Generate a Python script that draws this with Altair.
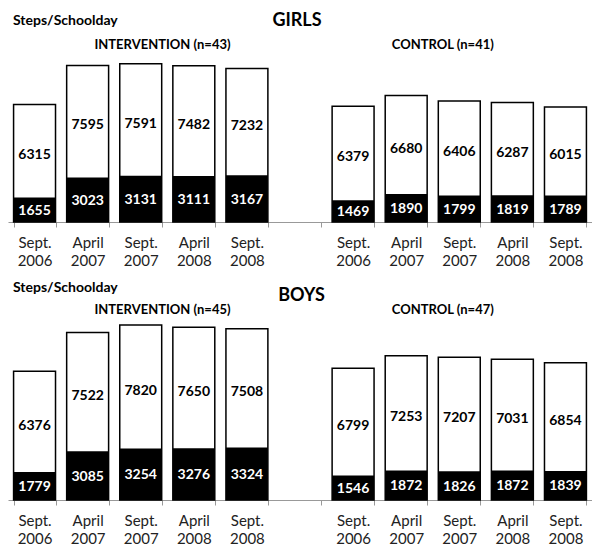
import altair as alt
import pandas as pd

# ---- data ----
months = ["Sept.", "April", "Sept.", "April", "Sept."]
years = ["2006", "2007", "2007", "2008", "2008"]

girls_int_black = [1655, 3023, 3131, 3111, 3167]
girls_int_white = [6315, 7595, 7591, 7482, 7232]
girls_ctl_black = [1469, 1890, 1799, 1819, 1789]
girls_ctl_white = [6379, 6680, 6406, 6287, 6015]

boys_int_black = [1779, 3085, 3254, 3276, 3324]
boys_int_white = [6376, 7522, 7820, 7650, 7508]
boys_ctl_black = [1546, 1872, 1826, 1872, 1839]
boys_ctl_white = [6799, 7253, 7207, 7031, 6854]

FONT = "Lato"
W = 584


def keys(group):
    return [f"{m}|{y}|{group}" for m, y in zip(months, years)]


domain = keys("I") + ["||gap"] + keys("C")


def text_mark(label, x, y, size, align="center"):
    return alt.Chart(pd.DataFrame({"label": [label]})).mark_text(
        font=FONT, fontSize=size, fontWeight="bold", color="black",
        align=align, baseline="alphabetic"
    ).encode(x=alt.value(x), y=alt.value(y), text="label:N")


def panel(ib, iw, cb, cw, ymax, height, sex, int_label, ctl_label, pos):
    df = pd.DataFrame({
        "key": keys("I") + keys("C"),
        "black": ib + cb,
        "white": iw + cw,
    })
    base = alt.Chart(df).transform_calculate(
        total="datum.black + datum.white",
        wmid="datum.black + datum.white / 2",
        bmid="datum.black / 2",
    )
    x = alt.X(
        "key:N",
        sort=domain,
        scale=alt.Scale(domain=domain, paddingInner=0.21, paddingOuter=0.105),
        axis=alt.Axis(
            title=None,
            labelExpr="slice(split(datum.label, '|'), 0, 2)",
            labelAngle=0,
            tickBand="extent",
            tickSize=5,
            tickColor="#999999",
            domainColor="#999999",
            labelFont=FONT,
            labelFontSize=15,
            labelColor="#222222",
            labelLineHeight=18,
            labelBaseline="alphabetic",
            labelPadding=20,
            labelOverlap=False,
        ),
    )
    ys = alt.Scale(domain=[0, ymax], nice=False, zero=True)
    white = base.mark_bar(fill="white", stroke="black", strokeWidth=1.5).encode(
        x=x, y=alt.Y("total:Q", scale=ys, axis=None)
    )
    black = base.mark_bar(color="black").encode(
        x=x, y=alt.Y("black:Q", scale=ys, axis=None)
    )
    wlab = base.mark_text(
        font=FONT, fontSize=14, fontWeight="bold", color="black", dy=4
    ).encode(x=x, y=alt.Y("wmid:Q", scale=ys, axis=None),
             text=alt.Text("white:Q", format="d"))
    blab = base.mark_text(
        font=FONT, fontSize=14, fontWeight="bold", color="white", dy=1
    ).encode(x=x, y=alt.Y("bmid:Q", scale=ys, axis=None),
             text=alt.Text("black:Q", format="d"))
    titles = [
        text_mark("Steps/Schoolday", 5, pos["steps"], 14, align="left"),
        text_mark(sex, pos["sex_x"], pos["sex_y"], 18),
        text_mark(int_label, 154.5, pos["grp"], 13),
        text_mark(ctl_label, 434.8, pos["grp"], 13),
    ]
    return alt.layer(white, black, wlab, blab, *titles).properties(
        width=W, height=height
    )


girls = panel(girls_int_black, girls_int_white, girls_ctl_black, girls_ctl_white,
              14102, 208, "GIRLS", "INTERVENTION (n=43)", "CONTROL (n=41)",
              {"steps": 11.3, "sex_x": 289, "sex_y": 12, "grp": 34.7})
boys = panel(boys_int_black, boys_int_white, boys_ctl_black, boys_ctl_white,
             13924, 220, "BOYS", "INTERVENTION (n=45)", "CONTROL (n=47)",
             {"steps": 12, "sex_x": 293.5, "sex_y": 21, "grp": 33.7})

chart = alt.vconcat(girls, boys, spacing=12).properties(
    padding={"top": 4, "left": 0, "right": 0, "bottom": 0}, background="white"
).configure_view(stroke=None)

chart.save("out.html", embed_options={"renderer": "svg", "actions": False})
